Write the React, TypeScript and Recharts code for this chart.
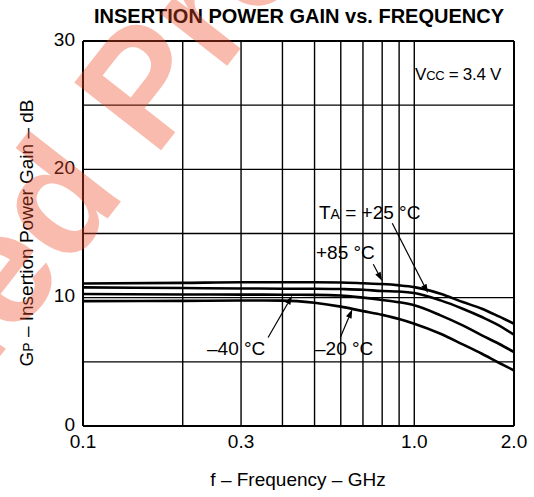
import { LineChart, Line, XAxis, YAxis, ReferenceLine } from "recharts";

// frequency points (GHz) and gain curves (dB)
const freqs = [0.1, 0.2, 0.3, 0.4, 0.5, 0.6, 0.7, 0.8, 0.9, 1.0, 1.2, 1.4, 1.6, 1.8, 2.0];
const gainP85 = [11.1, 11.15, 11.2, 11.2, 11.2, 11.18, 11.12, 11.06, 10.96, 10.82, 10.31, 9.66, 9.14, 8.54, 7.97];
const gainP25 = [10.8, 10.75, 10.72, 10.7, 10.7, 10.67, 10.62, 10.52, 10.48, 10.36, 9.79, 9.14, 8.49, 7.84, 7.11];
const gainM40 = [10.28, 10.25, 10.24, 10.23, 10.22, 10.17, 10.0, 9.82, 9.64, 9.4, 8.62, 7.84, 7.06, 6.41, 5.76];
const gainM20 = [9.73, 9.75, 9.78, 9.77, 9.6, 9.3, 8.95, 8.66, 8.34, 7.97, 7.19, 6.36, 5.63, 4.93, 4.33];

const xTicks = [0.1, 0.3, 1.0, 2.0];
const xGrid = [0.1, 0.2, 0.3, 0.4, 0.5, 0.6, 0.7, 0.8, 0.9, 1.0, 2.0];
const yTicks = [0, 5, 10, 15, 20, 25, 30];

// arrows from the temperature labels to the curves: [from, to] in (GHz, dB)
const arrows = [
  { name: "+25", from: { x: 0.858, y: 15.8 }, to: { x: 1.1, y: 10.36 } },
  { name: "+85", from: { x: 0.752, y: 12.6 }, to: { x: 0.8, y: 11.3 } },
  { name: "-40", from: { x: 0.362, y: 6.9 }, to: { x: 0.428, y: 10.15 } },
  { name: "-20", from: { x: 0.598, y: 6.9 }, to: { x: 0.65, y: 9.1 } },
];

const data = freqs.map((f, i) => ({
  f,
  p85: gainP85[i],
  p25: gainP25[i],
  m40: gainM40[i],
  m20: gainM20[i],
}));

const font = "'Liberation Sans', Arial, Helvetica, sans-serif";

const ArrowShape = (p: any) => {
  const { x1, y1, x2, y2 } = p;
  if ([x1, y1, x2, y2].some((v) => v == null || isNaN(v))) return null;
  const a = Math.atan2(y2 - y1, x2 - x1);
  const len = 9;
  const w = 3;
  const bx = x2 - len * Math.cos(a);
  const by = y2 - len * Math.sin(a);
  const pts = [
    [x2, y2],
    [bx + w * Math.sin(a), by - w * Math.cos(a)],
    [bx - w * Math.sin(a), by + w * Math.cos(a)],
  ]
    .map((q) => q.join(","))
    .join(" ");
  return (
    <g>
      <line x1={x1} y1={y1} x2={bx} y2={by} stroke="#000" strokeWidth={1.2} />
      <polygon points={pts} fill="#000" />
    </g>
  );
};

export default function App() {
  return (
    <div style={{ position: "absolute", left: 0, top: 0, width: 534, height: 497, background: "#fff", overflow: "hidden" }}>
      <LineChart
        width={534}
        height={497}
        data={data}
        margin={{ top: 41, right: 20, left: 0, bottom: 41 }}
      >
        <XAxis
          dataKey="f"
          type="number"
          scale="log"
          domain={[0.1, 2]}
          allowDataOverflow
          ticks={xTicks}
          tickFormatter={(v) => Number(v).toFixed(1)}
          axisLine={false}
          tickLine={false}
          height={30}
          tick={{ fill: "#000", fontSize: 19, fontFamily: font, dy: 1 }}
        />
        <YAxis
          type="number"
          domain={[0, 30]}
          ticks={yTicks}
          tickFormatter={(v) => (v % 10 === 0 ? String(v) : "")}
          axisLine={false}
          tickLine={false}
          width={83}
          tick={{ fill: "#000", fontSize: 19, fontFamily: font, dy: -2 }}
        />
        {yTicks.map((v) => (
          <ReferenceLine key={`gy-${v}`} y={v} stroke="#000" strokeWidth={v === 0 || v === 30 ? 2 : 1.4} />
        ))}
        {xGrid.map((v) => (
          <ReferenceLine key={`gx-${v}`} x={v} stroke="#000" strokeWidth={v === 0.1 || v === 2.0 ? 2 : 1.4} />
        ))}
        <Line type="monotone" dataKey="p85" stroke="#000" strokeWidth={2.6} dot={false} isAnimationActive={false} />
        <Line type="monotone" dataKey="p25" stroke="#000" strokeWidth={2.6} dot={false} isAnimationActive={false} />
        <Line type="monotone" dataKey="m40" stroke="#000" strokeWidth={2.6} dot={false} isAnimationActive={false} />
        <Line type="monotone" dataKey="m20" stroke="#000" strokeWidth={2.6} dot={false} isAnimationActive={false} />
        {arrows.map((a) => (
          <ReferenceLine key={`ar-${a.name}`} segment={[a.from, a.to]} shape={ArrowShape} />
        ))}
      </LineChart>
      <svg
        width={534}
        height={497}
        style={{ position: "absolute", left: 0, top: 0, pointerEvents: "none" }}
        fontFamily={font}
      >
        <text x={299} y={23} textAnchor="middle" fontSize={20} fontWeight="bold">
          INSERTION POWER GAIN vs. FREQUENCY
        </text>
        <text x={501} y={80} textAnchor="end" fontSize={17} letterSpacing={-0.3}>
          V<tspan fontSize={13}>CC</tspan> = 3.4 V
        </text>
        <text x={319} y={219} fontSize={19}>
          T<tspan fontSize={14}>A</tspan> = +25 °C
        </text>
        <text x={316} y={259} fontSize={19}>+85 °C</text>
        <text x={207} y={355} fontSize={19}>–40 °C</text>
        <text x={315} y={355} fontSize={19}>–20 °C</text>
        <text x={298} y={486} textAnchor="middle" fontSize={19}>
          f – Frequency – GHz
        </text>
        <text x={33} y={233} textAnchor="middle" fontSize={19} transform="rotate(-90 33 233)">
          G<tspan fontSize={14}>P</tspan> – Insertion Power Gain – dB
        </text>
        <g transform="translate(141 176) rotate(-52)" fontSize={160} fontWeight="bold" fill="#f04a26" opacity={0.37}>
          <text x={-22} y={0} textAnchor="end">Discontinued</text>
          <text x={22} y={0}>Product</text>
        </g>
      </svg>
    </div>
  );
}
